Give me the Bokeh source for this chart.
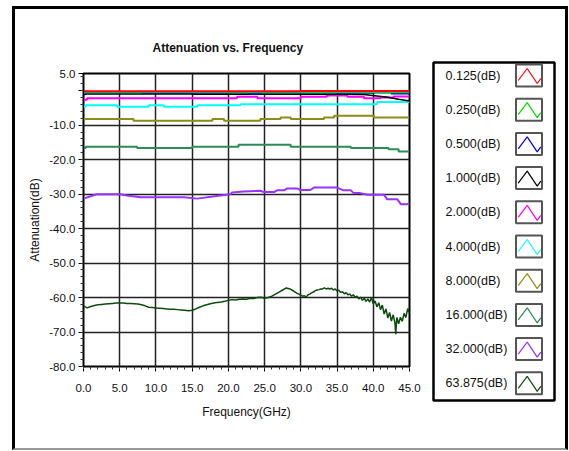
from bokeh.plotting import figure
from bokeh.models import Range1d, FixedTicker, PrintfTickFormatter, Row
from bokeh.core.properties import value
from bokeh.embed import file_html
from bokeh.resources import INLINE

# ---------------- data ----------------
series_names = ["0.125(dB)", "0.250(dB)", "0.500(dB)", "1.000(dB)", "2.000(dB)",
                "4.000(dB)", "8.000(dB)", "16.000(dB)", "32.000(dB)", "63.875(dB)"]
series_colors = ["#FF0000", "#00DD00", "#0000FF", "#000000", "#FF00FF",
                 "#00FFFF", "#8C8C1A", "#2E8B57", "#9933FF", "#0E4A0E"]

# step-like traces: (frequency where level starts, level)
f_0125 = [0, 12.0, 30.0, 45]
a_0125 = [-0.15, -0.15, -0.1, -0.15]
f_0250 = [0, 8.0, 20.0, 35.0, 42.0, 45]
a_0250 = [-0.45, -0.35, -0.45, -0.35, -0.45, -0.45]
f_0500 = [0, 0.3, 23.0, 24.5, 40.0, 42.5, 45]
a_0500 = [-0.9, -0.6, -0.85, -0.6, -0.5, -0.8, -0.8]
f_2000 = [0, 0.5, 21.2, 24.0, 30.0, 33.6, 36.4, 38.7, 41.0, 42.8, 45]
a_2000 = [-2.6, -2.2, -1.75, -2.2, -1.75, -1.37, -1.75, -2.2, -1.95, -1.7, -1.7]
f_4000 = [0, 0.3, 4.65, 9.0, 11.1, 15.7, 21.7, 40.5, 45]
a_4000 = [-4.65, -4.2, -4.65, -4.2, -4.65, -4.2, -3.9, -3.3, -3.3]
f_8000 = [0, 6.9, 17.8, 19.4, 24.4, 27.2, 28.6, 33.2, 34.6, 40.1, 45]
a_8000 = [-8.2, -8.7, -8.2, -8.7, -8.2, -7.75, -8.2, -7.75, -7.26, -7.75, -7.75]
f_16000 = [0, 0.3, 7.4, 15.0, 21.4, 28.6, 36.9, 42.1, 43.5, 45]
a_16000 = [-16.6, -16.25, -16.6, -16.25, -15.7, -16.25, -16.6, -17.0, -17.6, -17.6]

# line traces
f_1000 = [0, 0.3, 15.0, 15.3, 30.0, 36.0, 38.7, 40.5, 42.0, 43.5, 45]
a_1000 = [-1.2, -0.95, -0.95, -1.05, -1.0, -1.0, -1.1, -1.5, -1.9, -2.5, -3.0]

f_32000 = [0, 1.4, 1.9, 5.1, 6.0, 7.9, 13.85, 15.7, 18.9, 20.3, 20.5, 22.1, 24.4,
           24.9, 26.3, 26.7, 27.7, 28.1, 29.5, 29.95, 31.3, 31.8, 35.0, 35.9, 36.9,
           37.3, 38.2, 39.2, 41.5, 41.9, 43.3, 43.8, 44.7, 45]
a_32000 = [-31.3, -30.3, -30.0, -30.0, -30.4, -30.9, -30.9, -31.3, -30.4, -30.0,
           -29.5, -29.2, -29.0, -29.4, -29.4, -28.9, -28.9, -28.35, -28.35, -28.8,
           -28.8, -28.1, -28.1, -28.9, -28.9, -29.7, -29.7, -30.2, -30.2, -31.45,
           -31.45, -32.9, -32.9, -32.6]

f_63875 = [0.0, 0.5, 1.0, 1.5, 2.0, 2.5, 3.0, 3.5, 4.0, 4.5, 5.0, 5.5, 6.0, 6.5,
           7.0, 7.5, 8.0, 8.5, 9.0, 9.5, 10.0, 10.5, 11.0, 11.5, 12.0, 12.5, 13.0,
           13.5, 14.0, 14.5, 15.0, 15.5, 16.0, 16.5, 17.0, 17.5, 18.0, 18.5, 19.0,
           19.5, 20.0, 20.5, 21.0, 21.5, 22.0, 22.5, 23.0, 23.5, 24.0, 24.5, 25.0,
           25.5, 26.0, 26.5, 27.0, 27.5, 28.0, 28.5, 29.0, 29.5,
           30.0, 30.25, 30.5, 30.75, 31.0, 31.25, 31.5, 31.75, 32.0, 32.25, 32.5,
           32.75, 33.0, 33.25, 33.5, 33.75, 34.0, 34.25, 34.5, 34.75, 35.0, 35.25,
           35.5, 35.75, 36.0, 36.25, 36.5, 36.75, 37.0, 37.25, 37.5, 37.75, 38.0,
           38.25, 38.5, 38.75, 39.0, 39.25, 39.5, 39.75, 40.0, 40.25, 40.5, 40.75,
           41.0, 41.25, 41.5, 41.75, 42.0, 42.25, 42.5, 42.75, 43.0, 43.1, 43.25,
           43.5, 43.75, 44.0, 44.25, 44.5, 44.75, 45.0]
a_63875 = [-62.4, -63.0, -62.6, -62.3, -62.1, -62.0, -61.9, -61.8, -61.7, -61.6,
           -61.6, -61.6, -61.7, -61.7, -61.8, -61.9, -62.1, -62.4, -62.8, -62.9,
           -63.0, -63.1, -63.2, -63.3, -63.4, -63.4, -63.5, -63.6, -63.7, -63.8,
           -63.7, -63.3, -62.8, -62.4, -62.1, -61.8, -61.6, -61.4, -61.3, -61.1,
           -60.8, -60.6, -60.7, -60.5, -60.4, -60.5, -60.2, -60.3, -60.0, -59.9,
           -60.2, -60.0, -59.6, -59.0, -58.4, -57.8, -57.2, -57.5, -58.1, -58.8,
           -59.3, -59.6, -59.5, -59.8, -59.2, -59.0, -58.6, -58.4, -58.0, -57.8,
           -57.7, -57.5, -57.5, -57.2, -57.5, -57.3, -57.5, -57.3, -57.8, -57.5,
           -58.1, -57.9, -58.5, -58.3, -58.9, -58.6, -59.2, -59.0, -59.6, -59.2,
           -59.9, -59.6, -60.4, -59.9, -60.8, -60.2, -61.1, -60.4, -61.3, -60.0,
           -61.8, -61.0, -62.7, -61.5, -63.5, -62.2, -64.8, -63.3, -65.9, -64.3,
           -66.8, -65.0, -67.5, -70.6, -65.8, -67.6, -65.7, -66.9, -64.6, -65.8,
           -63.2, -64.5]

x_ticks = [0, 5, 10, 15, 20, 25, 30, 35, 40, 45]
y_ticks = [5, 0, -10, -20, -30, -40, -50, -60, -70, -80]

# ---------------- layout constants (page pixels) ----------------
PAGE_L, PAGE_T = 12, 6          # outer frame position
BORDER = 3
IN_L, IN_T = PAGE_L + BORDER, PAGE_T + BORDER   # inner content origin (15, 9)
SPLIT = 430                     # main / legend split (page x)
IN_R, IN_B = 565, 448           # inner content right / bottom
FL, FR, FT, FB = 83, 409, 73, 366   # data frame on page
FONT = "Liberation Sans"

main_w = SPLIT - IN_L
leg_w = IN_R - SPLIT
inner_h = IN_B - IN_T

p = figure(width=main_w, height=inner_h, output_backend="svg", toolbar_location=None,
           x_range=Range1d(0, 45), y_range=Range1d(-80, 5),
           title="Attenuation vs. Frequency",
           x_axis_label="Frequency(GHz)", y_axis_label="Attenuation(dB)")
p.frame_align = False
p.min_border_left = FL - IN_L
p.min_border_right = SPLIT - FR
p.min_border_top = FT - IN_T
p.min_border_bottom = IN_B - FB
p.background_fill_color = "white"
p.border_fill_color = "white"
p.outline_line_color = "black"
p.outline_line_width = 2

p.title.text_font = FONT
p.title.text_font_size = "12px"
p.title.text_font_style = "bold"
p.title.align = "left"
p.title.offset = 152 - FL
p.title.standoff = 38
p.title.text_color = "#111111"

# axes
xa = p.xaxis[0]
xa.ticker = FixedTicker(ticks=x_ticks, minor_ticks=list(range(0, 46)))
xa.formatter = PrintfTickFormatter(format="%.1f")
ya = p.yaxis[0]
ya.ticker = FixedTicker(ticks=y_ticks, minor_ticks=list(range(-80, 5, 2)))
ya.formatter = PrintfTickFormatter(format="%.1f")
ya.major_label_overrides = {0: ""}
for ax in (xa, ya):
    ax.major_tick_in = 0
    ax.major_tick_out = 5
    ax.minor_tick_in = 0
    ax.minor_tick_out = 3
    ax.axis_line_color = "black"
    ax.major_tick_line_color = "black"
    ax.minor_tick_line_color = "#333333"
    ax.major_label_text_font = FONT
    ax.major_label_text_font_size = "11.5px"
    ax.major_label_text_color = "#111111"
    ax.axis_label_text_font = FONT
    ax.axis_label_text_font_size = "12px"
    ax.axis_label_text_font_style = "normal"
    ax.axis_label_text_color = "#111111"
xa.major_label_standoff = 12
xa.axis_label_standoff = 10
ya.major_label_standoff = 3
ya.axis_label_standoff = 4

p.xgrid.ticker = FixedTicker(ticks=x_ticks[1:-1])
p.ygrid.ticker = FixedTicker(ticks=y_ticks[2:-1])
for g in (p.xgrid[0], p.ygrid[0]):
    g.grid_line_color = "#222222"
    g.grid_line_width = 1.5

# ---------------- traces ----------------
p.line(f_63875, a_63875, color=series_colors[9], line_width=1.5)
p.line(f_32000, a_32000, color=series_colors[8], line_width=2)
p.step(f_16000, a_16000, mode="after", color=series_colors[7], line_width=2)
p.step(f_8000, a_8000, mode="after", color=series_colors[6], line_width=2)
p.step(f_4000, a_4000, mode="after", color=series_colors[5], line_width=2)
p.step(f_2000, a_2000, mode="after", color=series_colors[4], line_width=2)
p.line(f_1000, a_1000, color=series_colors[3], line_width=1.5)
p.step(f_0500, a_0500, mode="after", color=series_colors[2], line_width=2)
p.step(f_0250, a_0250, mode="after", color=series_colors[1], line_width=2)
p.step(f_0125, a_0125, mode="after", color=series_colors[0], line_width=2)

# ---------------- legend panel (its own canvas, page-pixel coordinates) ----------------
lg = figure(width=leg_w, height=inner_h, output_backend="svg", toolbar_location=None,
            x_range=Range1d(SPLIT, IN_R), y_range=Range1d(IN_B, IN_T),
            x_axis_location=None, y_axis_location=None, min_border=0)
lg.frame_align = False
lg.min_border_left = lg.min_border_right = lg.min_border_top = lg.min_border_bottom = 0
lg.outline_line_color = None
lg.grid.visible = False
lg.background_fill_color = "white"
lg.border_fill_color = "white"

LEG_L, LEG_T, LEG_R, LEG_B = 433, 62, 554, 400
ROW0, ROWH = 75, 34.2
lg.quad(left=[LEG_L], right=[LEG_R], top=[LEG_T], bottom=[LEG_B],
        fill_alpha=0, line_color="black", line_width=2.5)

rows_y = [ROW0 + ROWH * i for i in range(len(series_names))]
lg.text(x=[445] * len(rows_y), y=rows_y, text=series_names,
        text_baseline="middle", text_align="left", text_font=value(FONT),
        text_font_size="12.5px", text_color="#111111")
BX0, BX1, BH = 515.5, 541.5, 11
lg.quad(left=[BX0] * len(rows_y), right=[BX1] * len(rows_y),
        top=[cy - BH for cy in rows_y], bottom=[cy + BH for cy in rows_y],
        fill_alpha=0, line_color="#555555", line_width=2)
zx = [BX0 + 2.2, BX0 + 11.2, BX0 + 21.2, BX0 + 24.8]
zdy = [5, -7, 8, 3]
lg.multi_line(xs=[zx] * len(rows_y),
              ys=[[cy + d for d in zdy] for cy in rows_y],
              line_color=series_colors, line_width=1.2)

layout = Row(children=[p, lg], margin=(PAGE_T, 0, 0, PAGE_L), spacing=0,
             styles={"border-left": "3px solid black", "border-top": "3px solid black",
                     "border-right": "3px solid black", "border-bottom": "2px solid #999999"})

open("out.html", "w").write(file_html(layout, INLINE))
